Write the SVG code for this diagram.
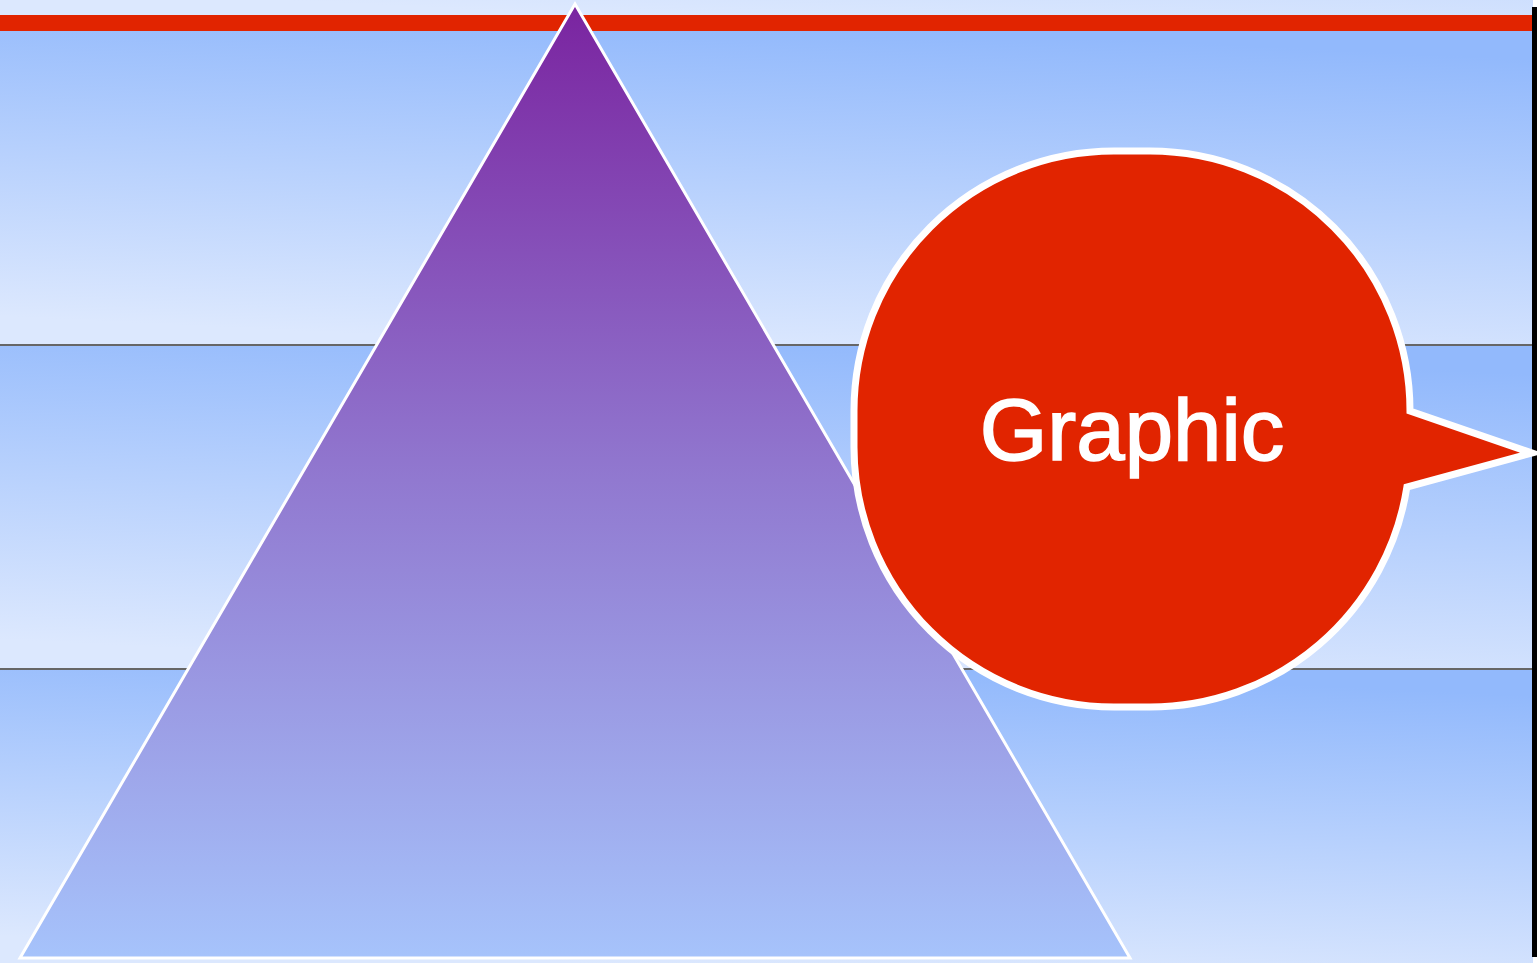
<svg xmlns="http://www.w3.org/2000/svg" width="1537" height="963" viewBox="0 0 1537 963">
  <defs>
    <linearGradient id="band" x1="0.62" y1="0" x2="0.38" y2="1">
      <stop offset="0" stop-color="#92b9fc"/>
      <stop offset="1" stop-color="#dce8fe"/>
    </linearGradient>
    <linearGradient id="tri" x1="0" y1="0" x2="0" y2="1">
      <stop offset="0" stop-color="#7a24a0"/>
      <stop offset="0.5" stop-color="#9179d0"/>
      <stop offset="1" stop-color="#a6c3fb"/>
    </linearGradient>
    <style>
      .band { fill: url(#band); }
      .sep { stroke: #666666; stroke-width: 2; }
      .label { font-family: "Liberation Sans", Arial, sans-serif; font-size: 87px; fill: #ffffff; stroke: #ffffff; stroke-width: 1.6; }
    </style>
  </defs>
  <rect width="1537" height="963" fill="#ffffff"/>
  <g id="background">
    <rect class="band" x="0" y="-300" width="1533" height="315"/>
    <rect class="band" x="0" y="31" width="1533" height="314"/>
    <rect class="band" x="0" y="345" width="1533" height="324"/>
    <rect class="band" x="0" y="669" width="1533" height="294"/>
    <rect x="0" y="15" width="1533" height="16" fill="#e12400"/>
    <line class="sep" x1="0" y1="345" x2="1533" y2="345"/>
    <line class="sep" x1="0" y1="669" x2="1533" y2="669"/>
    <rect x="1532" y="7" width="5" height="950" fill="#000000"/>
  </g>
  <g id="triangle">
    <polygon points="575,4 1130,958 20,958" fill="url(#tri)" stroke="#ffffff" stroke-width="3" stroke-linejoin="miter"/>
  </g>
  <g id="bubble">
    <path d="M 1114 151 H 1150 A 260 260 0 0 1 1410 411 L 1532 453 L 1406.9 487 A 260 260 0 0 1 1150 707 H 1114 A 260 260 0 0 1 854 447 V 411 A 260 260 0 0 1 1114 151 Z" fill="#e12400" stroke="#ffffff" stroke-width="7"/>
    <text class="label" x="1132" y="460" text-anchor="middle">Graphic</text>
  </g>
  <g id="connectors"/>
</svg>
